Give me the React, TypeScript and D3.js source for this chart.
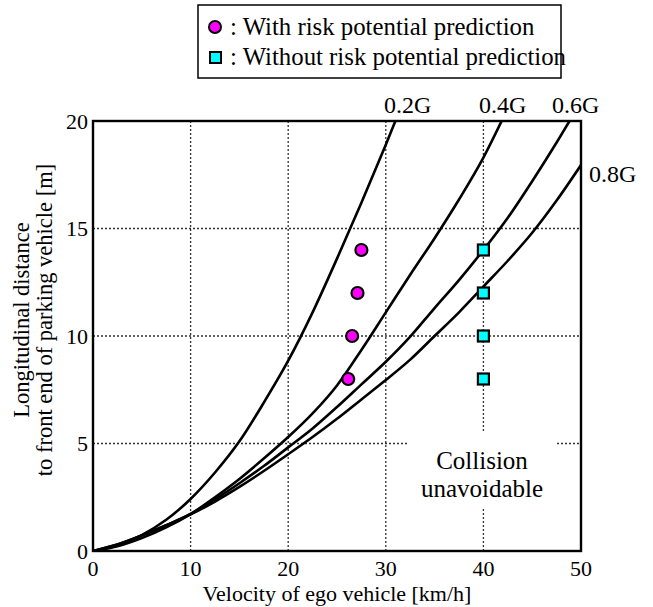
import React from "react";
import * as d3 from "d3";

const speeds = [0, 2.5, 5, 7.5, 10, 12.5, 15, 17.5, 20, 22.5, 25, 27.5, 30, 32.5, 35, 37.5, 40, 42.5, 45, 47.5, 50];
const dist02G = [0, 0.25, 0.74, 1.45, 2.42, 3.65, 5.1, 6.9, 8.85, 11.1, 13.6, 16.2, 18.9, 21.7, null, null, null, null, null, null, null];
const dist04G = [0, 0.22, 0.6, 1.1, 1.72, 2.5, 3.35, 4.3, 5.3, 6.4, 7.7, 9.35, 11.1, 12.85, 14.55, 16.35, 18.3, 20.6, null, null, null];
const dist06G = [0, 0.3, 0.72, 1.2, 1.72, 2.4, 3.15, 3.95, 4.82, 5.7, 6.7, 7.75, 8.8, 9.97, 11.3, 12.6, 14.0, 15.5, 17.2, 19.0, 20.9];
const dist08G = [0, 0.3, 0.72, 1.2, 1.7, 2.3, 2.98, 3.72, 4.5, 5.3, 6.15, 7.05, 7.95, 8.9, 10.0, 11.1, 12.3, 13.5, 14.8, 16.3, 17.95];
const curveLabels = ["0.2G", "0.4G", "0.6G", "0.8G"];

const withSpeed = [27.5, 27.1, 26.55, 26.15];
const withDist = [14, 12, 10, 8];
const withoutSpeed = [40, 40, 40, 40];
const withoutDist = [14, 12, 10, 8];

const xTicks = [0, 10, 20, 30, 40, 50];
const yTicks = [0, 5, 10, 15, 20];
const xGrid = [10, 20, 30, 40];
const yGrid = [5, 10, 15];

const FONT = "'Liberation Serif', 'Times New Roman', serif";

export default function App() {
  const W = 653, H = 607;
  const x = d3.scaleLinear().domain([0, 50]).range([93, 581]);
  const y = d3.scaleLinear().domain([0, 20]).range([551, 121]);
  const series = [dist02G, dist04G, dist06G, dist08G];
  const line = d3
    .line<[number, number | null]>()
    .defined((d) => d[1] !== null)
    .x((d) => x(d[0]))
    .y((d) => y(d[1] as number))
    .curve(d3.curveMonotoneX);

  const labelPos = [
    { x: 384, y: 113 },
    { x: 479, y: 113 },
    { x: 552, y: 113 },
    { x: 589, y: 182 },
  ];

  return (
    <svg width={W} height={H} style={{ position: "absolute", left: 0, top: 0, background: "#fff" }} fontFamily={FONT}>
      <defs>
        <clipPath id="plotclip">
          <rect x={x(0)} y={y(20)} width={x(50) - x(0)} height={y(0) - y(20)} />
        </clipPath>
      </defs>
      <rect x={0} y={0} width={W} height={H} fill="#fff" />
      {/* grid */}
      {xGrid.map((v) => (
        <line key={"gx" + v} x1={x(v)} x2={x(v)} y1={y(0)} y2={y(20)} stroke="#333" strokeWidth={1.3} strokeDasharray="2,2" />
      ))}
      {yGrid.map((v) => (
        <line key={"gy" + v} x1={x(0)} x2={x(50)} y1={y(v)} y2={y(v)} stroke="#333" strokeWidth={1.3} strokeDasharray="2,2" />
      ))}
      {/* white box behind annotation */}
      <rect x={408} y={433} width={147} height={75} fill="#fff" />
      <text x={482} y={469} fontSize={25} textAnchor="middle" fill="#000">Collision</text>
      <text x={482} y={497} fontSize={25} textAnchor="middle" fill="#000">unavoidable</text>
      {/* curves */}
      <g clipPath="url(#plotclip)">
        {series.map((s, i) => (
          <path
            key={"c" + i}
            d={line(speeds.map((v, j) => [v, s[j]] as [number, number | null])) || ""}
            fill="none"
            stroke="#000"
            strokeWidth={2.6}
          />
        ))}
      </g>
      {/* frame */}
      <rect x={x(0)} y={y(20)} width={x(50) - x(0)} height={y(0) - y(20)} fill="none" stroke="#000" strokeWidth={2.4} />
      {/* markers */}
      {withSpeed.map((v, i) => (
        <circle key={"w" + i} cx={x(v)} cy={y(withDist[i])} r={6} fill="#FF00FF" stroke="#000" strokeWidth={2.2} />
      ))}
      {withoutSpeed.map((v, i) => (
        <rect key={"wo" + i} x={x(v) - 5.5} y={y(withoutDist[i]) - 5.5} width={11} height={11} fill="#00FFFF" stroke="#000" strokeWidth={2.2} />
      ))}
      {/* curve labels */}
      {curveLabels.map((t, i) => (
        <text key={"l" + i} x={labelPos[i].x} y={labelPos[i].y} fontSize={24} fill="#000">{t}</text>
      ))}
      {/* ticks */}
      {xTicks.map((v) => (
        <text key={"xt" + v} x={x(v)} y={576} fontSize={22} textAnchor="middle" fill="#000">{v}</text>
      ))}
      {yTicks.map((v) => (
        <text key={"yt" + v} x={88} y={y(v) + 7.5} fontSize={22} textAnchor="end" fill="#000">{v}</text>
      ))}
      {/* axis titles */}
      <text x={337} y={601} fontSize={22} textAnchor="middle" fill="#000">Velocity of ego vehicle [km/h]</text>
      <text transform={`translate(29,320) rotate(-90)`} fontSize={22.5} textAnchor="middle" fill="#000">Longitudinal distance</text>
      <text transform={`translate(52,320) rotate(-90)`} fontSize={22.5} textAnchor="middle" fill="#000">to front end of parking vehicle [m]</text>
      {/* legend */}
      <rect x={198} y={5} width={363} height={73} fill="#fff" stroke="#000" strokeWidth={1.5} />
      <circle cx={215} cy={27} r={6} fill="#FF00FF" stroke="#000" strokeWidth={2} />
      <text x={230} y={35} fontSize={24.8} fill="#000">: With risk potential prediction</text>
      <rect x={210} y={52} width={11} height={11} fill="#00FFFF" stroke="#000" strokeWidth={2} />
      <text x={230} y={65} fontSize={24.8} fill="#000">: Without risk potential prediction</text>
    </svg>
  );
}
